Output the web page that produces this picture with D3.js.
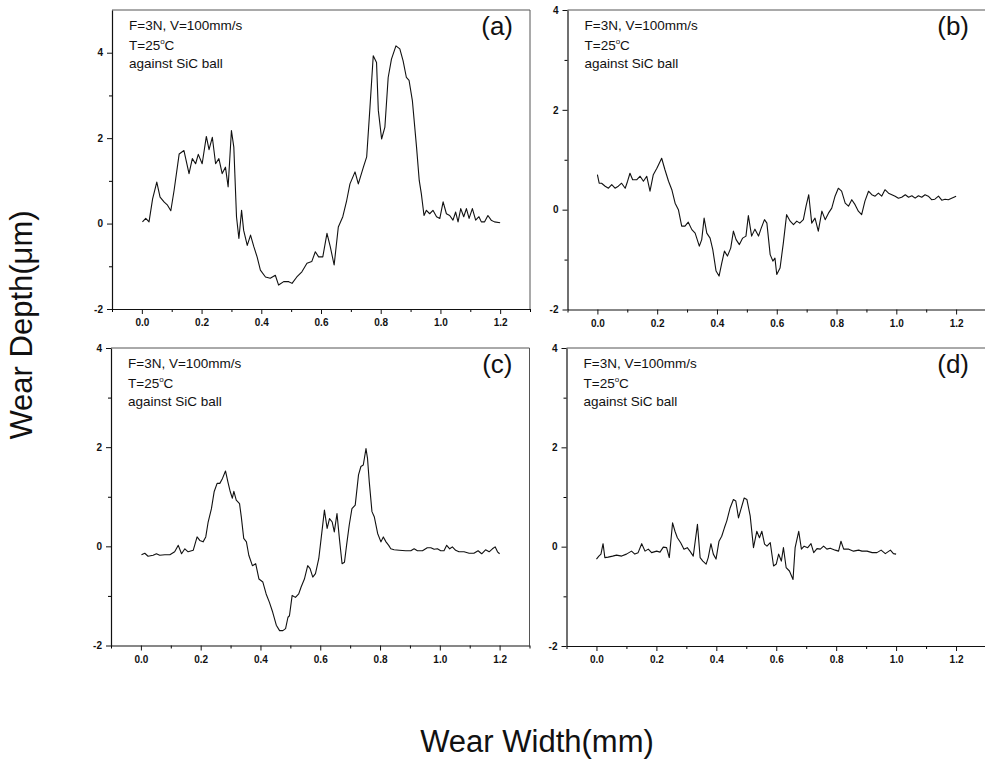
<!DOCTYPE html>
<html><head><meta charset="utf-8">
<script src="https://cdn.jsdelivr.net/npm/d3@7"></script>
<style>
body{margin:0;background:#fff}
svg{display:block}
text{font-family:"Liberation Sans",Arial,sans-serif;fill:#111}
</style>
</head><body>
<svg id="chart" width="985" height="759"></svg>
<script>
// ---------- data ----------
const xTicks = [0.0, 0.2, 0.4, 0.6, 0.8, 1.0, 1.2];
const xMinorTicks = [-0.1, 0.1, 0.3, 0.5, 0.7, 0.9, 1.1, 1.3];
const yTicks = [-2, 0, 2, 4];
const yMinorTicks = [-1, 1, 3];
const xTitle = "Wear Width(mm)";
const yTitle = "Wear Depth(\u03bcm)";
const noteLine1 = "F=3N, V=100mm/s";
const noteLine2 = ["T=25", "o", "C"];
const noteLine3 = "against SiC ball";

const widthA = [0.002,0.013,0.024,0.036,0.05,0.061,0.075,0.086,0.097,0.108,0.125,0.141,0.158,0.169,0.18,0.189,0.202,0.216,0.225,0.236,0.247,0.258,0.269,0.28,0.289,0.3,0.308,0.317,0.325,0.334,0.341,0.353,0.364,0.375,0.386,0.397,0.414,0.43,0.447,0.458,0.475,0.492,0.503,0.519,0.536,0.553,0.569,0.581,0.592,0.606,0.62,0.631,0.644,0.658,0.673,0.686,0.697,0.714,0.725,0.742,0.753,0.764,0.775,0.786,0.792,0.803,0.814,0.825,0.836,0.851,0.864,0.875,0.886,0.895,0.906,0.92,0.929,0.936,0.945,0.953,0.964,0.975,0.987,0.998,1.009,1.02,1.031,1.042,1.051,1.059,1.068,1.078,1.087,1.096,1.107,1.118,1.129,1.137,1.148,1.159,1.17,1.181,1.2];
const depthA = [0.04,0.12,0.04,0.58,0.97,0.62,0.5,0.43,0.3,0.78,1.63,1.71,1.17,1.52,1.4,1.62,1.4,2.04,1.73,2.02,1.4,1.52,1.17,1.32,0.86,2.18,1.79,0.16,-0.35,0.31,-0.16,-0.51,-0.27,-0.54,-0.78,-1.09,-1.25,-1.28,-1.21,-1.44,-1.36,-1.36,-1.4,-1.25,-1.13,-0.93,-0.89,-0.66,-0.78,-0.78,-0.23,-0.54,-0.97,-0.08,0.16,0.54,0.93,1.21,0.93,1.32,1.56,2.72,3.93,3.77,2.65,1.98,2.26,3.42,3.85,4.16,4.09,3.81,3.42,3.35,2.88,1.79,1.01,0.7,0.19,0.31,0.23,0.31,0.16,0.12,0.51,0.23,0.19,0.08,0.27,0.04,0.35,0.16,0.35,0.12,0.35,0.08,0.16,0.04,0.04,0.19,0.08,0.04,0.02];

const widthB = [0,0.006,0.014,0.026,0.037,0.048,0.059,0.07,0.081,0.093,0.101,0.109,0.118,0.132,0.143,0.154,0.165,0.176,0.187,0.199,0.215,0.226,0.238,0.249,0.26,0.271,0.282,0.293,0.304,0.316,0.327,0.341,0.349,0.357,0.366,0.377,0.386,0.397,0.407,0.416,0.425,0.435,0.446,0.455,0.464,0.475,0.486,0.497,0.505,0.516,0.527,0.539,0.548,0.559,0.567,0.578,0.587,0.594,0.6,0.611,0.622,0.633,0.645,0.656,0.667,0.677,0.689,0.698,0.707,0.717,0.728,0.739,0.751,0.762,0.773,0.784,0.795,0.806,0.817,0.829,0.84,0.851,0.862,0.873,0.884,0.895,0.907,0.918,0.929,0.94,0.951,0.962,0.974,0.985,0.996,1.007,1.018,1.03,1.041,1.052,1.063,1.074,1.085,1.096,1.107,1.118,1.129,1.141,1.152,1.163,1.174,1.185,1.2];
const depthB = [0.7,0.53,0.53,0.47,0.43,0.5,0.43,0.47,0.53,0.43,0.57,0.73,0.6,0.6,0.67,0.57,0.67,0.37,0.7,0.83,1.03,0.8,0.57,0.4,0.13,0,-0.33,-0.33,-0.25,-0.4,-0.47,-0.73,-0.6,-0.17,-0.47,-0.57,-0.8,-1.23,-1.33,-1.07,-0.83,-0.93,-0.77,-0.43,-0.6,-0.7,-0.57,-0.53,-0.12,-0.53,-0.39,-0.53,-0.37,-0.2,-0.27,-0.9,-1.03,-0.97,-1.3,-1.17,-0.67,-0.1,-0.23,-0.3,-0.23,-0.27,-0.2,0.07,0.3,-0.27,-0.17,-0.43,-0.03,-0.2,-0.07,0.03,0.27,0.43,0.37,0.13,0.07,0.2,0.1,-0.03,-0.1,0.17,0.37,0.3,0.27,0.33,0.27,0.4,0.33,0.3,0.27,0.23,0.25,0.3,0.25,0.28,0.23,0.28,0.25,0.3,0.27,0.2,0.21,0.27,0.19,0.21,0.2,0.23,0.27];

const widthC = [0.002,0.013,0.024,0.041,0.052,0.063,0.08,0.097,0.113,0.125,0.136,0.147,0.158,0.175,0.188,0.197,0.208,0.217,0.225,0.236,0.245,0.255,0.264,0.273,0.283,0.291,0.299,0.306,0.311,0.319,0.33,0.336,0.344,0.353,0.361,0.373,0.384,0.395,0.408,0.419,0.43,0.441,0.453,0.464,0.475,0.484,0.492,0.497,0.506,0.517,0.528,0.536,0.547,0.558,0.566,0.575,0.584,0.595,0.603,0.614,0.623,0.631,0.64,0.647,0.656,0.664,0.673,0.681,0.688,0.697,0.706,0.717,0.728,0.736,0.744,0.753,0.758,0.764,0.773,0.781,0.792,0.803,0.811,0.82,0.829,0.836,0.847,0.864,0.886,0.903,0.914,0.925,0.942,0.958,0.97,0.981,0.992,1.003,1.014,1.023,1.033,1.042,1.053,1.064,1.081,1.098,1.114,1.128,1.14,1.153,1.165,1.176,1.185,1.193,1.2];
const depthC = [-0.17,-0.14,-0.2,-0.18,-0.15,-0.18,-0.17,-0.17,-0.11,0.02,-0.15,-0.05,-0.11,-0.08,0.19,0.12,0.09,0.19,0.49,0.76,1.1,1.27,1.27,1.37,1.52,1.3,1.1,0.97,1.11,0.93,0.86,0.59,0.16,0.09,-0.18,-0.39,-0.35,-0.66,-0.72,-0.96,-1.13,-1.33,-1.59,-1.7,-1.7,-1.66,-1.43,-1.4,-0.99,-1.03,-0.96,-0.82,-0.66,-0.39,-0.45,-0.62,-0.55,-0.25,0.16,0.73,0.36,0.56,0.49,0.29,0.66,0.16,-0.35,-0.32,0.02,0.43,0.76,0.83,1.44,1.61,1.64,1.97,1.78,1.3,0.7,0.59,0.26,0.09,0.19,0.09,0.02,-0.05,-0.07,-0.08,-0.09,-0.09,-0.05,-0.09,-0.09,-0.03,-0.03,-0.06,-0.05,-0.09,-0.09,0.02,-0.05,-0.01,-0.08,-0.11,-0.11,-0.14,-0.14,-0.09,-0.15,-0.07,-0.11,-0.05,-0.01,-0.11,-0.15];

const widthD = [0,0.008,0.015,0.022,0.028,0.039,0.054,0.067,0.084,0.1,0.117,0.128,0.139,0.151,0.162,0.173,0.184,0.201,0.212,0.223,0.234,0.243,0.254,0.262,0.27,0.281,0.292,0.303,0.312,0.323,0.337,0.346,0.355,0.366,0.373,0.382,0.39,0.399,0.409,0.418,0.427,0.435,0.446,0.457,0.465,0.474,0.482,0.493,0.502,0.513,0.524,0.535,0.544,0.552,0.561,0.569,0.58,0.591,0.6,0.608,0.617,0.624,0.633,0.644,0.656,0.663,0.675,0.684,0.693,0.705,0.716,0.725,0.736,0.747,0.758,0.769,0.78,0.797,0.808,0.816,0.825,0.842,0.858,0.875,0.886,0.903,0.92,0.936,0.95,0.964,0.981,0.991,1.0];
const depthD = [-0.25,-0.19,-0.15,0.06,-0.22,-0.21,-0.19,-0.17,-0.19,-0.15,-0.09,-0.15,-0.12,0.06,-0.09,-0.05,-0.12,-0.09,-0.11,-0.01,-0.02,-0.22,0.48,0.31,0.18,0.08,-0.05,-0.02,-0.09,-0.19,0.45,-0.22,-0.29,-0.35,-0.22,0.06,-0.15,-0.25,0.11,0.21,0.38,0.52,0.78,0.95,0.92,0.58,0.75,0.98,0.95,0.62,-0.02,0.31,0.18,0.31,0.05,0.01,0.08,-0.39,-0.35,-0.15,-0.29,-0.02,-0.42,-0.49,-0.66,-0.02,0.31,-0.05,0.01,-0.02,0.06,-0.12,-0.04,-0.05,0.01,-0.05,-0.03,-0.07,-0.09,0.11,-0.05,-0.05,-0.09,-0.07,-0.09,-0.09,-0.12,-0.12,-0.07,-0.14,-0.07,-0.14,-0.15];

// ---------- layout ----------
const panels = [
  {label:"(a)", xs:widthA, ys:depthA, left:112, right:530, top:10, bottom:309, yMax:5},
  {label:"(b)", xs:widthB, ys:depthB, left:567.5, right:986, top:10, bottom:309.5, yMax:4},
  {label:"(c)", xs:widthC, ys:depthC, left:111, right:529.5, top:348, bottom:645.5, yMax:4},
  {label:"(d)", xs:widthD, ys:depthD, left:566.5, right:986, top:348, bottom:646, yMax:4}
];

const svg = d3.select("#chart");
svg.append("rect").attr("width",985).attr("height",759).attr("fill","#fff");

panels.forEach(p => {
  const x = d3.scaleLinear().domain([-0.1, 1.3]).range([p.left, p.right]);
  const y = d3.scaleLinear().domain([-2, p.yMax]).range([p.bottom, p.top]);
  const g = svg.append("g");

  // frame (top and right)
  g.append("path")
    .attr("d", `M${p.left},${p.top}H${p.right}V${p.bottom}`)
    .attr("fill","none").attr("stroke","#555").attr("stroke-width",1);

  // minor ticks
  g.append("g").attr("transform",`translate(0,${p.bottom})`)
    .call(d3.axisBottom(x).tickValues(xMinorTicks).tickSize(3).tickSizeOuter(0).tickFormat(""))
    .call(s => s.select(".domain").remove());
  g.append("g").attr("transform",`translate(${p.left},0)`)
    .call(d3.axisLeft(y).tickValues(yMinorTicks).tickSize(3).tickSizeOuter(0).tickFormat(""))
    .call(s => s.select(".domain").remove());

  // major axes
  const xa = g.append("g").attr("transform",`translate(0,${p.bottom})`)
    .call(d3.axisBottom(x).tickValues(xTicks).tickSize(5).tickSizeOuter(0).tickPadding(5)
      .tickFormat(d3.format(".1f")));
  const ya = g.append("g").attr("transform",`translate(${p.left},0)`)
    .call(d3.axisLeft(y).tickValues(yTicks).tickSize(5).tickSizeOuter(0).tickPadding(4)
      .tickFormat(d => String(d)));
  [xa, ya].forEach(a => {
    a.selectAll("text").style("font-family","'Liberation Sans',Arial,sans-serif")
      .style("font-size","10px").style("font-weight","bold").attr("fill","#111");
    a.selectAll("line").attr("stroke","#111");
    a.select(".domain").attr("stroke","#111").attr("stroke-width",1.2);
  });

  // curve
  const pts = p.xs.map((v,i) => [v, p.ys[i]]);
  g.append("path").datum(pts)
    .attr("d", d3.line().x(d => x(d[0])).y(d => y(d[1])))
    .attr("fill","none").attr("stroke","#111").attr("stroke-width",1.1)
    .attr("stroke-linejoin","round");

  // notes
  const nx = p.left + 17;
  g.append("text").attr("x",nx).attr("y",p.top+20).attr("font-size",13.5).text(noteLine1);
  const t2 = g.append("text").attr("x",nx).attr("y",p.top+40).attr("font-size",13.5);
  t2.append("tspan").text(noteLine2[0]);
  t2.append("tspan").attr("font-size",8).attr("dy",-6).text(noteLine2[1]);
  t2.append("tspan").attr("dy",6).text(noteLine2[2]);
  g.append("text").attr("x",nx).attr("y",p.top+58).attr("font-size",13.5).text(noteLine3);

  // panel label
  g.append("text").attr("x",p.right-17).attr("y",p.top+25).attr("text-anchor","end")
    .attr("font-size",26).text(p.label);
});

// axis titles
svg.append("text").attr("x",537).attr("y",752).attr("text-anchor","middle")
  .attr("font-size",31).text(xTitle);
svg.append("text").attr("transform","translate(32,325) rotate(-90)").attr("text-anchor","middle")
  .attr("font-size",31).text(yTitle);
</script>
</body></html>
